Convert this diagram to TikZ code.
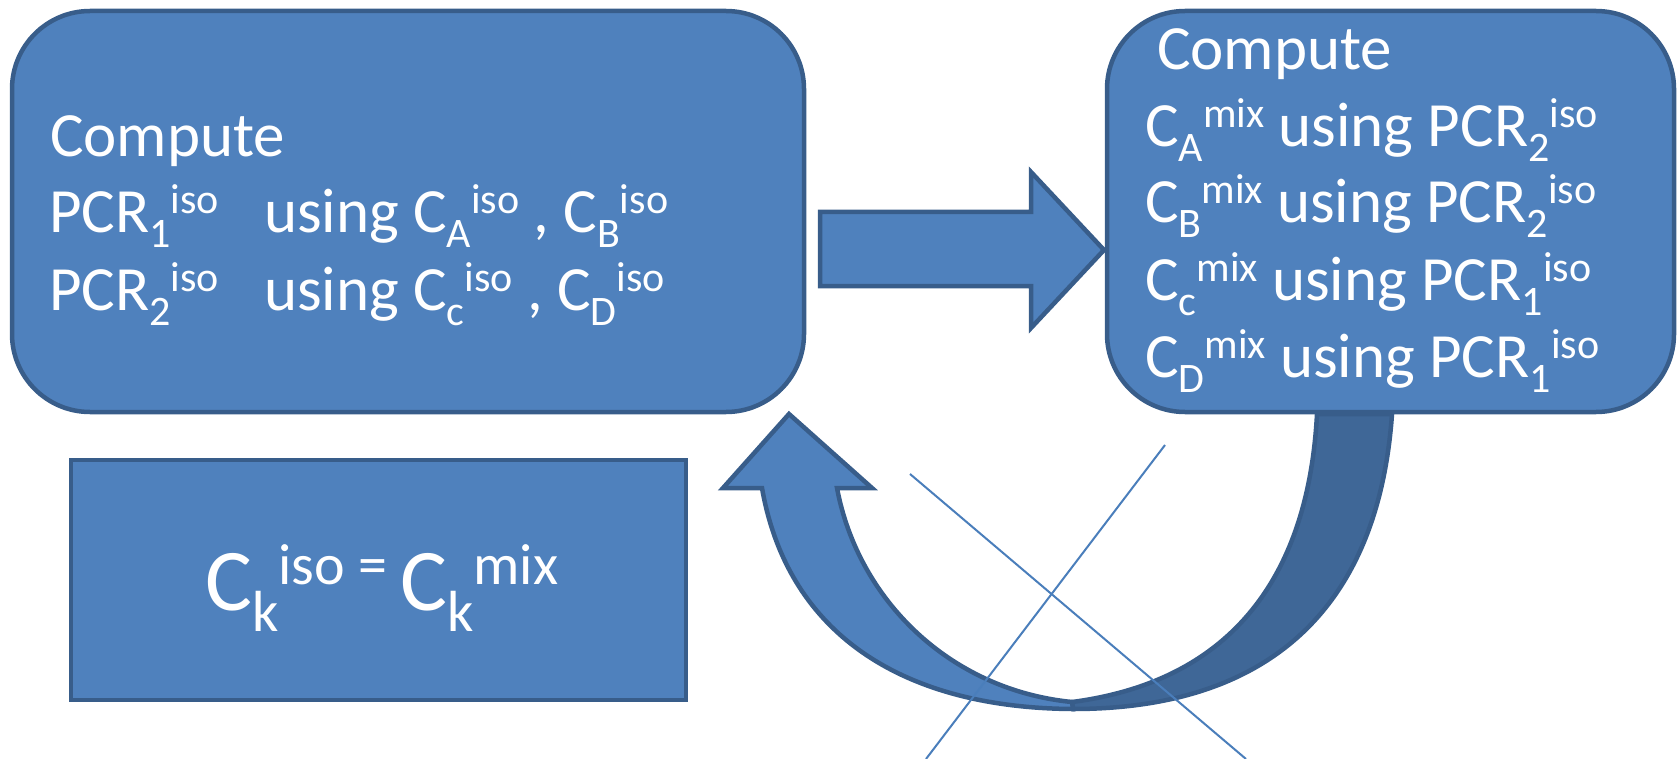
\documentclass[tikz,border=0pt]{standalone}
\usepackage{fontspec}
\setmainfont{Carlito}
\definecolor{boxfill}{HTML}{4F81BD}
\definecolor{boxline}{HTML}{385D8A}
\definecolor{backfill}{HTML}{3F6797}
\definecolor{thinline}{HTML}{4A7EBB}
% sub- and superscripts as set in the body text (63pt) and in the large formula (88pt)
\newcommand\subtx[1]{\raisebox{-15pt}{\fontsize{42}{42}\selectfont #1}}
\newcommand\suptx[1]{\raisebox{19pt}{\fontsize{42}{42}\selectfont #1}}
\newcommand\subbig[1]{\raisebox{-21pt}{\fontsize{58}{58}\selectfont #1}}
\newcommand\supbig[1]{\raisebox{26pt}{\fontsize{58}{58}\selectfont #1}}
\begin{document}
\begin{tikzpicture}[x=1pt, y=-1pt,
  panel/.style={draw=boxline, fill=boxfill, line width=4.5pt, rounded corners=78pt, inner sep=0pt},
  plainbox/.style={draw=boxline, fill=boxfill, line width=4.5pt, inner sep=0pt},
  block/.style={draw=boxline, fill=boxfill, line width=4.5pt},
  backblock/.style={draw=boxline, fill=backfill, line width=4.5pt},
  xline/.style={draw=thinline, line width=2pt},
  txt/.style={text=white, inner sep=0pt, anchor=base west, font=\fontsize{63}{63}\selectfont},
  bigtxt/.style={text=white, inner sep=0pt, anchor=base west, font=\fontsize{88}{88}\selectfont}]
\useasboundingbox (0,0) rectangle (1680,759);

% boxes
\node[panel, minimum width=792pt, minimum height=401pt] (iso) at (408,211.5) {};
\node[panel, minimum width=567pt, minimum height=401pt] (mix) at (1390.5,211.5) {};
\node[plainbox, minimum width=615pt, minimum height=240pt] (upd) at (378.5,580) {};

% text of the left box
\node[txt] (iso0) at (50,157) {Compute};
\node[txt] (iso1) at (49,233) {PCR\subtx{1}\suptx{iso}\hspace{45pt}using C\subtx{A}\suptx{iso} , C\subtx{B}\suptx{iso}};
\node[txt] (iso2) at (49,310) {PCR\subtx{2}\suptx{iso}\hspace{45pt}using C\subtx{c}\suptx{iso} , C\subtx{D}\suptx{iso}};

% text of the right box
\node[txt] (mix0) at (1157,70) {Compute};
\node[txt] (mix1) at (1145,147) {C\subtx{A}\suptx{mix} using PCR\subtx{2}\suptx{iso}};
\node[txt] (mix2) at (1145,223) {C\subtx{B}\suptx{mix} using PCR\subtx{2}\suptx{iso}};
\node[txt] (mix3) at (1145,300) {C\subtx{c}\suptx{mix} using PCR\subtx{1}\suptx{iso}};
\node[txt] (mix4) at (1145,377) {C\subtx{D}\suptx{mix} using PCR\subtx{1}\suptx{iso}};

% update rule
\node[bigtxt] (rule) at (205,610) {C\subbig{k}\supbig{iso = }C\subbig{k}\supbig{mix}};

% block arrow from the left box to the right box
\draw[block] (820,212) -- (1031,212) -- (1031,172) -- (1104,250)
  -- (1031,328) -- (1031,286) -- (820,286) -- cycle;

% curved arrow back to the left box: back face
\draw[backblock] (1317,414) -- (1392,414)
  .. controls (1379,599) and (1278,709) .. (1073,709)
  -- (1072,702)
  .. controls (1225,682) and (1308,584) .. (1317,414) -- cycle;
% curved arrow: front face with head
\draw[block] (723,488) -- (789,414) -- (872,488) -- (837,488)
  .. controls (858,600) and (950,690) .. (1072,702)
  -- (1073,709)
  .. controls (905,708) and (788,636) .. (762,488) -- cycle;

% crossing lines
\coordinate (xa1) at (1165,445);
\coordinate (xa2) at (926,759);
\coordinate (xb1) at (910,474);
\coordinate (xb2) at (1246,759);
\draw[xline] (xa1) -- (xa2);
\draw[xline] (xb1) -- (xb2);
\end{tikzpicture}
\end{document}
